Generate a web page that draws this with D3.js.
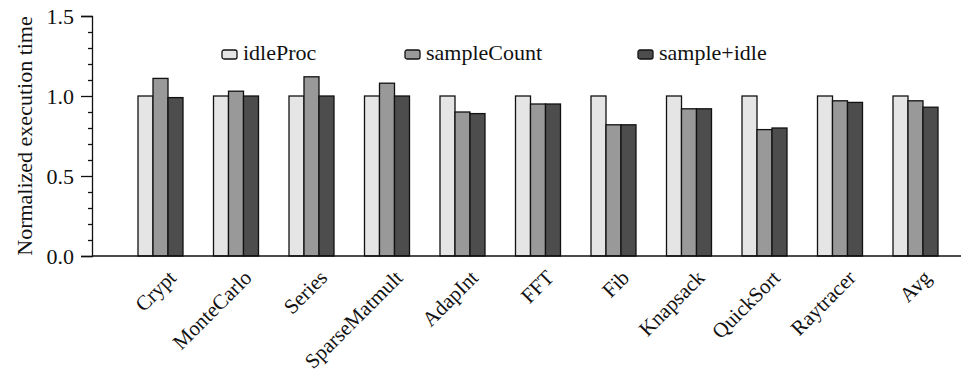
<!DOCTYPE html>
<html>
<head>
<meta charset="utf-8">
<script src="https://cdn.jsdelivr.net/npm/d3@7"></script>
<style>
  body { margin: 0; background: #fff; }
  text { font-family: "Liberation Serif", "DejaVu Serif", serif; fill: #111; }
</style>
</head>
<body>
<div id="chart"></div>
<script>
// benchmark data
const categories = ["Crypt", "MonteCarlo", "Series", "SparseMatmult", "AdapInt", "FFT",
  "Fib", "Knapsack", "QuickSort", "Raytracer", "Avg"];
const seriesNames = ["idleProc", "sampleCount", "sample+idle"];
const idleProc = [1.0, 1.0, 1.0, 1.0, 1.0, 1.0, 1.0, 1.0, 1.0, 1.0, 1.0];
const sampleCount = [1.11, 1.03, 1.12, 1.08, 0.90, 0.95, 0.82, 0.92, 0.79, 0.97, 0.97];
const sampleIdle = [0.99, 1.0, 1.0, 1.0, 0.89, 0.95, 0.82, 0.92, 0.80, 0.96, 0.93];
const yTicks = [0, 0.5, 1.0, 1.5];

const colors = ["#e5e5e5", "#999999", "#4d4d4d"];
const series = [idleProc, sampleCount, sampleIdle];

const width = 961, height = 379;
const svg = d3.select("#chart").append("svg")
  .attr("width", width).attr("height", height);

const x = d3.scaleBand().domain(categories)
  .range([122.75, 953.25]).paddingInner(0.404).paddingOuter(0.202);
const xs = d3.scaleBand().domain(seriesNames).range([0, x.bandwidth()]);
const y = d3.scaleLinear().domain([0, 1.5]).range([256, 16]);

// bars
categories.forEach((c, i) => {
  series.forEach((s, j) => {
    svg.append("rect")
      .attr("x", x(c) + xs(seriesNames[j]))
      .attr("y", y(s[i]))
      .attr("width", xs.bandwidth())
      .attr("height", y(0) - y(s[i]))
      .attr("fill", colors[j])
      .attr("stroke", "#111")
      .attr("stroke-width", 1.3);
  });
});

// y axis with minor ticks
const yAxis = svg.append("g").attr("transform", "translate(92,0)")
  .call(d3.axisLeft(y).tickValues(yTicks).tickFormat(d3.format(".1f")).tickSize(11).tickPadding(7));
svg.append("g").attr("transform", "translate(92,0)")
  .call(d3.axisLeft(y).tickValues(d3.range(0.1, 1.5, 0.1).filter(v => Math.abs(v * 2 - Math.round(v * 2)) > 0.01))
    .tickFormat("").tickSize(4))
  .select(".domain").remove();
yAxis.selectAll("text").style("font-size", "22px").attr("fill", "#111");
svg.selectAll(".tick line").attr("stroke", "#111").attr("stroke-width", 1.3);
yAxis.select(".domain").attr("stroke", "#111").attr("stroke-width", 1.3);

// x axis line
svg.append("line").attr("x1", 92).attr("x2", width)
  .attr("y1", y(0)).attr("y2", y(0))
  .attr("stroke", "#111").attr("stroke-width", 1.5);

// category labels
svg.append("g").selectAll("text").data(categories).join("text")
  .attr("transform", d => `translate(${x(d) + x.bandwidth() / 2 + 17},${y(0) + 23}) rotate(-45)`)
  .attr("text-anchor", "end")
  .style("font-size", "21px")
  .text(d => d);

// y title
svg.append("text")
  .attr("transform", `translate(32,${(y(0) + y(1.5)) / 2}) rotate(-90)`)
  .attr("text-anchor", "middle")
  .style("font-size", "22px")
  .text("Normalized execution time");

// legend
const legendX = [222, 405, 638];
const legend = svg.append("g").selectAll("g").data(seriesNames).join("g")
  .attr("transform", (d, i) => `translate(${legendX[i]},50)`);
legend.append("rect")
  .attr("width", 15).attr("height", 9).attr("rx", 2)
  .attr("fill", (d, i) => colors[i])
  .attr("stroke", "#111").attr("stroke-width", 1.3);
legend.append("text")
  .attr("x", 21).attr("y", 10)
  .style("font-size", "22px")
  .text(d => d);
</script>
</body>
</html>
